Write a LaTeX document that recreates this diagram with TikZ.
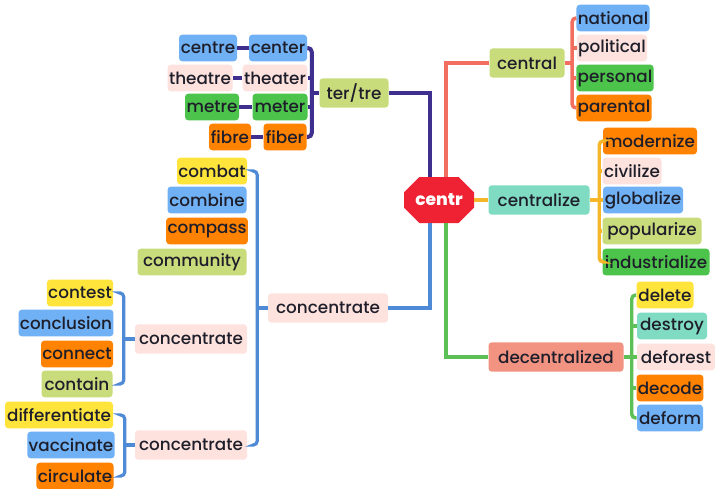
\documentclass[tikz,border=0pt]{standalone}
\usepackage{fontspec}
\setmainfont{Poppins}[UprightFont={* Medium}]
\usetikzlibrary{calc,shapes.misc}
\definecolor{cblue}{HTML}{6FB1F4}
\definecolor{cpink}{HTML}{FDE2DE}
\definecolor{cgreen}{HTML}{4CC34A}
\definecolor{corange}{HTML}{FF8200}
\definecolor{clgreen}{HTML}{C8DC7C}
\definecolor{cyellow}{HTML}{FFE53B}
\definecolor{cteal}{HTML}{7FDBC1}
\definecolor{csalmon}{HTML}{F29382}
\definecolor{cred}{HTML}{EE2233}
\definecolor{cpurp}{HTML}{3F2F8E}
\definecolor{ccoral}{HTML}{F26E5E}
\definecolor{cyel}{HTML}{F6B62A}
\definecolor{cgrn}{HTML}{5DC057}
\definecolor{cblu}{HTML}{4F8AD6}
\definecolor{txt}{HTML}{1E1E2A}
\begin{document}
\begin{tikzpicture}[x=0.75pt,y=-0.75pt,
  box/.style={rounded corners=2.5pt, minimum height=20pt, inner sep=1pt, text=txt,
    font=\fontsize{12.6}{14}\selectfont},
  pbox/.style={box, minimum height=22pt},
  w/.style={minimum width=#1*0.75pt},
  purp/.style={draw=cpurp, line width=3pt},
  coral/.style={draw=ccoral, line width=2.6pt},
  yel/.style={draw=cyel, line width=2.6pt},
  grn/.style={draw=cgrn, line width=2.6pt},
  blu/.style={draw=cblu, line width=2.4pt},
  brk/.style={rounded corners=3pt}]
\useasboundingbox (0,0) rectangle (715,489);
\fill[white] (0,0) rectangle (715,489);

% ter/tre branch
\node[box,w=58,fill=cblue] (centre) at (208,48) {centre};
\node[box,w=58,fill=cblue] (center) at (278,48) {center};
\node[box,w=65,fill=cpink] (theatre) at (200,78) {theatre};
\node[box,w=64,fill=cpink] (theater) at (275,78) {theater};
\node[box,w=54,fill=cgreen] (metre) at (212,107) {metre};
\node[box,w=55,fill=cgreen] (meter) at (280,107) {meter};
\node[box,w=42,fill=corange] (fibre) at (230,137) {fibre};
\node[box,w=43,fill=corange] (fiber) at (285,137) {fiber};
\node[pbox,w=69,fill=clgreen] (tertre) at (354,93) {ter/tre};

% central branch
\node[pbox,w=75,fill=clgreen] (central) at (527,63) {central};
\node[box,w=73,fill=cblue] (national) at (613,18) {national};
\node[box,w=70,fill=cpink] (political) at (612,48) {political};
\node[box,w=76,fill=cgreen] (personal) at (615,78) {personal};
\node[box,w=75,fill=corange] (parental) at (614,108) {parental};

% centralize branch
\node[pbox,w=101,fill=cteal] (centralize) at (539,200) {centralize};
\node[box,w=94,fill=corange] (modernize) at (650,141) {modernize};
\node[box,w=59,fill=cpink] (civilize) at (632,171) {civilize};
\node[box,w=80,fill=cblue] (globalize) at (643,200) {globalize};
\node[box,w=99,fill=clgreen] (popularize) at (652,231) {popularize};
\node[box,w=107,fill=cgreen] (industrialize) at (656,262) {industrialize};

% decentralized branch
\node[pbox,w=135,fill=csalmon] (decentralized) at (556,357) {decentralized};
\node[box,w=57,fill=cyellow] (delete) at (665,295) {delete};
\node[box,w=70,fill=cteal] (destroy) at (672,326) {destroy};
\node[box,w=78,fill=cpink] (deforest) at (676,357) {deforest};
\node[box,w=66,fill=corange] (decode) at (670,388) {decode};
\node[box,w=66,fill=cblue] (deform) at (670,418) {deform};

% concentrate branch
\node[pbox,w=120,fill=cpink] (concentrate) at (328,308) {concentrate};
\node[box,w=70,fill=cyellow] (combat) at (212,171) {combat};
\node[box,w=79,fill=cblue] (combine) at (207,200) {combine};
\node[box,w=79,fill=corange] (compass) at (207,231) {compass};
\node[box,w=109,fill=clgreen] (community) at (192,262) {community};
\node[pbox,w=112,fill=cpink] (conctwo) at (191,339) {concentrate};
\node[box,w=66,fill=cyellow] (contest) at (80,293) {contest};
\node[box,w=94,fill=cblue] (conclusion) at (66,323) {conclusion};
\node[box,w=72,fill=corange] (connect) at (77,354) {connect};
\node[box,w=71,fill=clgreen] (contain) at (77,384) {contain};
\node[pbox,w=112,fill=cpink] (concthree) at (191,445) {concentrate};
\node[box,w=108,fill=cyellow] (differentiate) at (59,415) {differentiate};
\node[box,w=84,fill=cblue] (vaccinate) at (71,445) {vaccinate};
\node[box,w=77,fill=corange] (circulate) at (75,476) {circulate};

% centre node
\node[chamfered rectangle, chamfered rectangle xsep=10pt, chamfered rectangle ysep=7pt,
  fill=cred, text=white, inner sep=0pt, minimum width=70*0.75pt, minimum height=46*0.75pt,
  font=\fontsize{12.8}{14}\selectfont\bfseries] (centr) at (439,200) {centr};

% ter/tre connectors
\draw[purp] (centre) -- (center);
\draw[purp] (theatre) -- (theater);
\draw[purp] (metre) -- (meter);
\draw[purp] (fibre) -- (fiber);
\draw[purp,brk] (center.east) -| ($(fiber.east)+(5,0)$) -- (fiber.east);
\draw[purp] (theater.east) -- ++(5,0);
\draw[purp] (meter.east) -- ++(5,0);
\draw[purp] (tertre.west) -- ++(-8,0);
\draw[purp] (tertre.east) -| ($(centr.north)+(-9,0)$);

% central connectors
\draw[coral] (central.west) -| ($(centr.north)+(7,0)$);
\draw[coral,brk] (national.west) -| ($(parental.west)+(-4,0)$) -- (parental.west);
\draw[coral] (political.west) -- ++(-4,0);
\draw[coral] (personal.west) -- ++(-4,0);
\draw[coral] (central.east) -- ++(9,0);

% centralize connectors
\draw[yel] (centr.east) -- (centralize.west);
\draw[yel,brk] (modernize.west) -| ($(industrialize.west)+(-3,0)$) -- (industrialize.west);
\draw[yel] (civilize.west) -- ++(-3,0);
\draw[yel] (globalize.west) -- ++(-3,0);
\draw[yel] (popularize.west) -- ++(-3,0);
\draw[yel] (centralize.east) -- ++(10,0);

% decentralized connectors
\draw[grn] ($(centr.south)+(7,0)$) |- (decentralized.west);
\draw[grn,brk] (delete.west) -| ($(deform.west)+(-5,0)$) -- (deform.west);
\draw[grn] (destroy.west) -- ++(-5,0);
\draw[grn] (deforest.west) -- ++(-5,0);
\draw[grn] (decode.west) -- ++(-5,0);
\draw[grn] (decentralized.east) -- ++(8,0);

% concentrate connectors
\draw[blu] (concentrate.east) -| ($(centr.south)+(-9,0)$);
\draw[blu,brk] ($(combat.east)+(7,0)$) -| ($(concthree.east)+(10,0)$) -- ++(-3,0);
\draw[blu] (concentrate.west) -- ++(-11,0);
\draw[blu,brk] ($(contest.east)+(8,0)$) -| ($(contain.east)+(11,0)$) -- ++(-3,0);
\draw[blu] (conctwo.west) -- ++(-11,0);
\draw[blu,brk] ($(differentiate.east)+(8,0)$) -| ($(circulate.east)+(11,0)$) -- ++(-3,0);
\draw[blu] (concthree.west) -- ++(-11,0);
\end{tikzpicture}
\end{document}
